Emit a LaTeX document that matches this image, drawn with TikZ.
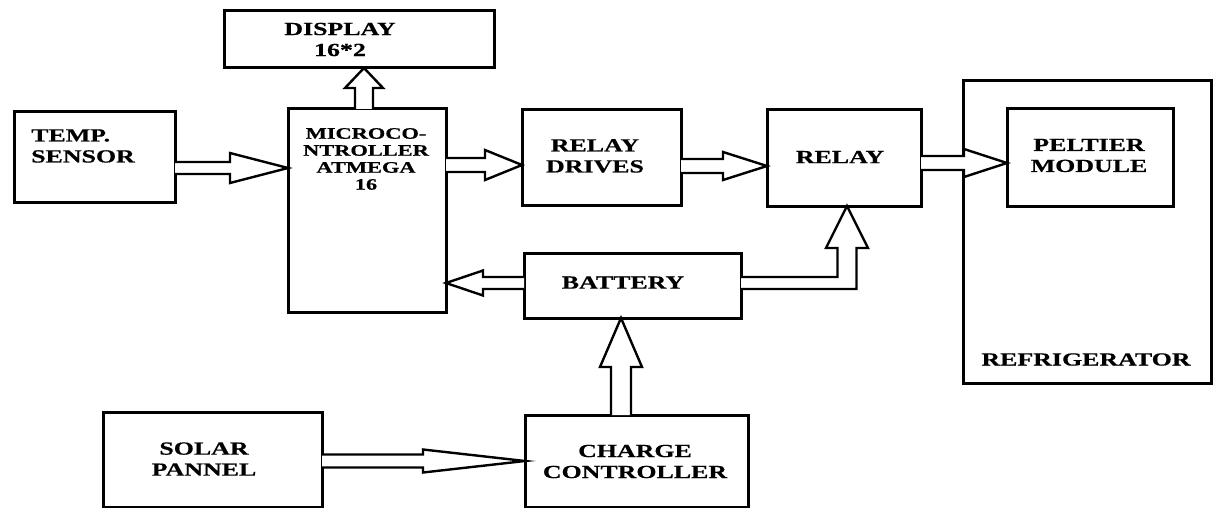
\documentclass[tikz,border=0pt]{standalone}
\usepackage{fontspec}
\setmainfont[FakeStretch=1.4, BoldFeatures={FakeBold=0.5}]{Liberation Serif}
\usetikzlibrary{calc}
\tikzset{
  box/.style={draw, line width=3pt, inner sep=0pt, outer sep=0pt, fill=white},
  txt/.style={font=\bfseries\fontsize{18.5}{21}\selectfont, align=center, inner sep=0pt},
  smalltxt/.style={font=\bfseries\fontsize{16}{17}\selectfont, align=center, inner sep=0pt},
  barrow/.style={draw, fill=white, line width=2.4pt, line join=miter},
}
% right-pointing block arrow: tail, tip, head length, shaft half, head half
\newcommand\rblock[5]{\draw[barrow] let \p1=(#1), \p2=(#2) in
  (\x1,\y1+#4pt) -- (\x2-#3pt,\y1+#4pt) -- (\x2-#3pt,\y1+#5pt) -- (\x2,\y2)
  -- (\x2-#3pt,\y1-#5pt) -- (\x2-#3pt,\y1-#4pt) -- (\x1,\y1-#4pt);}
\newcommand\lblock[5]{\draw[barrow] let \p1=(#1), \p2=(#2) in
  (\x1,\y1+#4pt) -- (\x2+#3pt,\y1+#4pt) -- (\x2+#3pt,\y1+#5pt) -- (\x2,\y2)
  -- (\x2+#3pt,\y1-#5pt) -- (\x2+#3pt,\y1-#4pt) -- (\x1,\y1-#4pt);}
\newcommand\ublock[5]{\draw[barrow] let \p1=(#1), \p2=(#2) in
  (\x1-#4pt,\y1) -- (\x1-#4pt,\y2-#3pt) -- (\x1-#5pt,\y2-#3pt) -- (\x2,\y2)
  -- (\x1+#5pt,\y2-#3pt) -- (\x1+#4pt,\y2-#3pt) -- (\x1+#4pt,\y1);}
\begin{document}
\begin{tikzpicture}[x=1pt,y=-1pt]
\useasboundingbox (0,0) rectangle (1214,508);
% boxes
\node[box, minimum width=270pt, minimum height=57pt] (display) at (359,39.5) {};
\node[box, minimum width=158pt, minimum height=203pt] (micro) at (367,210.5) {};
\node[box, minimum width=161pt, minimum height=90pt] (temp) at (94.5,157) {};
\node[box, minimum width=159pt, minimum height=95pt] (rdrives) at (601.5,157.5) {};
\node[box, minimum width=217pt, minimum height=65pt] (battery) at (632.5,285.5) {};
\node[box, minimum width=154pt, minimum height=96pt] (relay) at (844,158) {};
\node[box, minimum width=248pt, minimum height=302pt] (fridge) at (1087,232) {};
\node[box, minimum width=166pt, minimum height=97pt] (peltier) at (1090,157.5) {};
\node[box, minimum width=219pt, minimum height=95pt] (solar) at (212.5,459.5) {};
\node[box, minimum width=223pt, minimum height=92pt] (charge) at (636.5,461) {};
% texts
\node[txt] (displayT) at (340,39.5) {DISPLAY\\16*2};
\node[smalltxt] (microT) at (366,159) {MICROCO-\\NTROLLER\\ATMEGA\\16};
\node[txt, align=left, anchor=west] (tempT) at (31,146) {TEMP.\\SENSOR};
\node[txt] (rdrivesT) at (595,156) {RELAY\\DRIVES};
\node[txt] (batteryT) at (623,282.5) {BATTERY};
\node[txt] (relayT) at (840,157) {RELAY};
\node[txt] (peltierT) at (1089,155.5) {PELTIER\\MODULE};
\node[txt] (fridgeT) at (1086,359.5) {REFRIGERATOR};
\node[txt] (solarT) at (204,459) {SOLAR\\PANNEL};
\node[txt] (chargeT) at (635,461.5) {CHARGE\\CONTROLLER};
% arrow end points
\coordinate (a1s) at (temp.east |- 0,168);   \coordinate (a1e) at (micro.west |- 0,168);
\coordinate (a2s) at (micro.north -| 364,0); \coordinate (a2e) at (display.south -| 364,0);
\coordinate (a3s) at (micro.east |- 0,165);  \coordinate (a3e) at (rdrives.west |- 0,165);
\coordinate (a4s) at (rdrives.east |- 0,166);\coordinate (a4e) at (relay.west |- 0,166);
\coordinate (a5s) at (relay.east |- 0,163);  \coordinate (a5e) at (peltier.west |- 0,163);
\coordinate (a6s) at (battery.west |- 0,283);\coordinate (a6e) at (micro.east |- 0,283);
\coordinate (a7s) at (charge.north -| 621,0);\coordinate (a7e) at (battery.south -| 621,0);
\coordinate (a8s) at (solar.east |- 0,461);  \coordinate (a8e) at (charge.west |- 0,461);
\coordinate (a9s) at (battery.east |- 0,283);\coordinate (a9e) at (relay.south -| 847,0);
% arrows
\rblock{a1s}{a1e}{58}{6}{15}
\ublock{a2s}{a2e}{20}{9}{19}
\rblock{a3s}{a3e}{37}{7}{15}
\rblock{a4s}{a4e}{44}{7}{14}
\rblock{a5s}{a5e}{43}{7}{14}
\lblock{a6s}{a6e}{37}{6}{12.5}
\ublock{a7s}{a7e}{49}{10}{21}
\rblock{a8s}{a8e}{102}{6.5}{11.5}
\draw[barrow] let \p1=(a9s), \p2=(a9e) in
  (\x1,\y1+6pt) -- (\x2-9.5pt,\y1+6pt) -- (\x2-9.5pt,\y2-42pt) -- (\x2-21pt,\y2-42pt)
  -- (\x2,\y2) -- (\x2+21pt,\y2-42pt) -- (\x2+9.5pt,\y2-42pt) -- (\x2+9.5pt,\y1-6pt)
  -- (\x1,\y1-6pt);
\end{tikzpicture}
\end{document}
